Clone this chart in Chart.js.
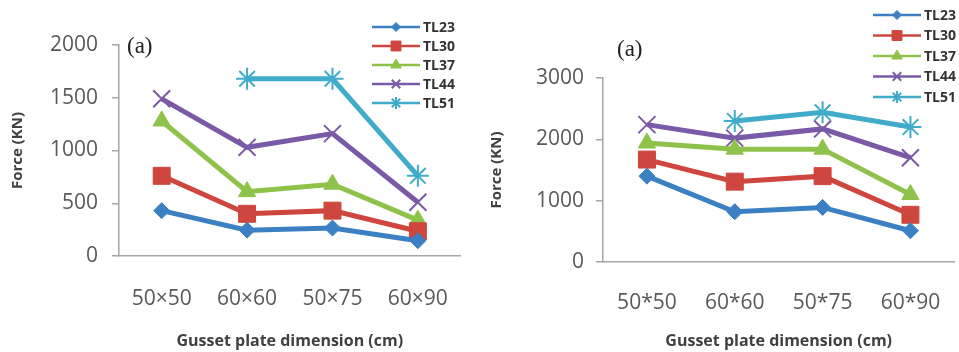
<!DOCTYPE html>
<html><head><meta charset="utf-8">
<script src="https://cdn.jsdelivr.net/npm/chart.js@4.4.1/dist/chart.umd.min.js"></script>
<style>
html,body{margin:0;padding:0;background:#fff;overflow:hidden;width:959px;height:352px;position:relative}
#c1{position:absolute;left:0;top:0;width:480px;height:352px}
#c2{position:absolute;left:480px;top:0;width:490px;height:352px}
</style></head><body>
<div id="c1"><canvas id="chartA"></canvas></div>
<div id="c2"><canvas id="chartB"></canvas></div>
<script>
// ---- data ----
const seriesNames = ['TL23', 'TL30', 'TL37', 'TL44', 'TL51'];
const leftCategories = ['50×50', '60×60', '50×75', '60×90'];
const rightCategories = ['50*50', '60*60', '50*75', '60*90'];
const leftTL23 = [430, 245, 265, 145];
const leftTL30 = [760, 400, 430, 235];
const leftTL37 = [1280, 610, 680, 340];
const leftTL44 = [1490, 1030, 1160, 510];
const leftTL51 = [null, 1680, 1680, 760];
const rightTL23 = [1400, 820, 890, 510];
const rightTL30 = [1670, 1310, 1400, 770];
const rightTL37 = [1940, 1840, 1840, 1100];
const rightTL44 = [2240, 2020, 2170, 1700];
const rightTL51 = [null, 2300, 2440, 2200];
const leftTicks = ['0', '500', '1000', '1500', '2000'];
const rightTicks = ['0', '1000', '2000', '3000'];

// ---- styles ----
const colors = ['#3C80C4', '#CE463E', '#8FC24A', '#7A5AA6', '#40ACC9'];
const styles = ['rectRot', 'rect', 'triangle', 'crossRot', 'star'];
const radii = [8, 12, 10, 12, 11];
const legendRadii = [4.5, 7, 6, 6, 6];
const bw = [1, 1, 1, 2, 2];

function makeDatasets(arrs) {
  return arrs.map((d, i) => ({
    label: seriesNames[i],
    data: d,
    borderColor: colors[i],
    backgroundColor: colors[i],
    pointBackgroundColor: colors[i],
    pointBorderColor: colors[i],
    pointStyle: styles[i],
    pointRadius: radii[i],
    pointBorderWidth: bw[i],
    borderWidth: 5,
    tension: 0,
    spanGaps: false,
    clip: false
  }));
}

const customDecor = {
  id: 'customDecor',
  afterDraw(chart, args, o) {
    const ctx = chart.ctx;
    ctx.save();
    ctx.font = '23px "Liberation Serif"';
    ctx.fillStyle = '#222';
    ctx.textBaseline = 'middle';
    ctx.textAlign = 'left';
    ctx.fillText(o.label, o.labelX, o.labelY);
    chart.data.datasets.forEach((ds, i) => {
      const y = o.y0 + i * o.dy;
      const x = o.x0;
      ctx.strokeStyle = ds.borderColor;
      ctx.lineWidth = 2.5;
      ctx.beginPath(); ctx.moveTo(x, y); ctx.lineTo(x + o.len, y); ctx.stroke();
      ctx.fillStyle = ds.pointBackgroundColor;
      ctx.strokeStyle = ds.pointBorderColor;
      ctx.lineWidth = ds.pointBorderWidth;
      if (Chart.helpers && Chart.helpers.drawPoint) {
        Chart.helpers.drawPoint(ctx, {pointStyle: ds.pointStyle, radius: legendRadii[i], rotation: 0, borderWidth: ds.pointBorderWidth}, x + o.len / 2, y);
      }
      ctx.fillStyle = '#333';
      ctx.font = 'bold 14px "Open Sans"';
      ctx.textBaseline = 'middle';
      ctx.fillText(ds.label, x + o.len + 3, y + 1);
    });
    ctx.restore();
  }
};

function makeChart(id, cats, arrs, tickLabels, maxV, step, cfg) {
  return new Chart(document.getElementById(id), {
    type: 'line',
    data: { labels: cats, datasets: makeDatasets(arrs) },
    plugins: [customDecor],
    options: {
      responsive: true,
      maintainAspectRatio: false,
      animation: false,
      layout: { padding: { left: 0, top: cfg.top, right: cfg.right, bottom: 0 } },
      plugins: {
        legend: { display: false },
        tooltip: { enabled: false },
        customDecor: cfg.decor
      },
      scales: {
        x: {
          type: 'category',
          offset: true,
          grid: { display: false, drawTicks: false },
          border: { display: true, color: '#a6a6a6', width: 1.5 },
          ticks: { font: { family: 'Open Sans', size: 21 }, color: '#595959', padding: cfg.xPad, maxRotation: 0, autoSkip: false },
          title: { display: true, text: 'Gusset plate dimension (cm)', font: { family: 'Open Sans', size: 16, weight: 'bold' }, color: '#404040', padding: { top: 0, bottom: 1 } },
          afterFit(s) { s.height = cfg.xH; }
        },
        y: {
          min: 0, max: maxV,
          ticks: {
            stepSize: step,
            font: { family: 'Open Sans', size: 21 }, color: '#595959', padding: cfg.yPad,
            callback: (v) => tickLabels.includes(String(v)) ? String(v) : ''
          },
          grid: { drawOnChartArea: false, drawTicks: true, tickLength: 7, color: '#a6a6a6', lineWidth: 1.5 },
          border: { display: true, color: '#a6a6a6', width: 1.5 },
          title: { display: true, text: 'Force (KN)', font: { family: 'Open Sans', size: 15, weight: 'bold' }, color: '#404040', padding: { top: cfg.yTitlePad, bottom: 0 } },
          afterFit(s) { s.width = cfg.yW; }
        }
      }
    }
  });
}

makeChart('chartA', leftCategories, [leftTL23, leftTL30, leftTL37, leftTL44, leftTL51], leftTicks, 2000, 500, {
  top: 45, right: 17, xH: 96, yW: 119, xPad: 30, yPad: 14, yTitlePad: 9,
  decor: { label: '(a)', labelX: 127, labelY: 47, x0: 372, y0: 27, dy: 19, len: 48 }
});
makeChart('chartB', rightCategories, [rightTL23, rightTL30, rightTL37, rightTL44, rightTL51], rightTicks, 3000, 1000, {
  top: 78, right: 9, xH: 90, yW: 123, xPad: 28, yPad: 12, yTitlePad: 8,
  decor: { label: '(a)', labelX: 137, labelY: 50, x0: 393, y0: 15, dy: 20.5, len: 48 }
});
</script>
</body></html>
